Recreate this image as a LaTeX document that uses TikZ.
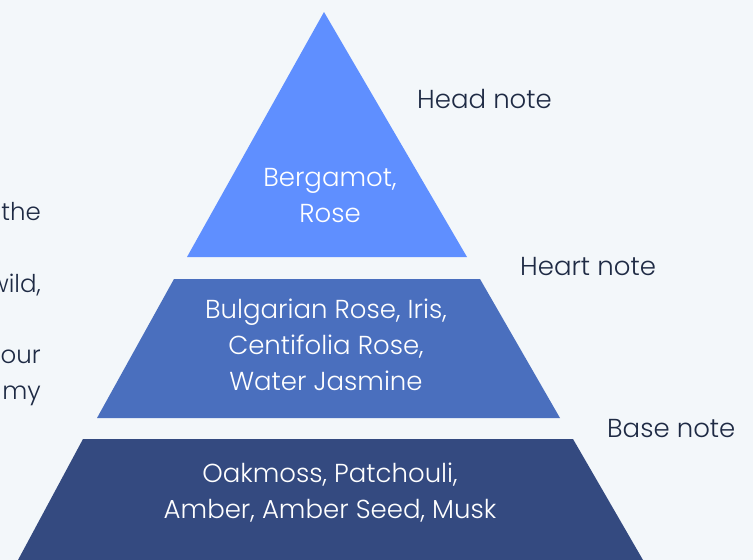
\documentclass[tikz,border=0pt]{standalone}
\usepackage{fontspec}
\setmainfont{Poppins Light}

\definecolor{pagebg}{RGB}{243,247,250}
\definecolor{headblue}{RGB}{95,143,255}
\definecolor{heartblue}{RGB}{74,111,190}
\definecolor{baseblue}{RGB}{52,74,128}
\definecolor{ink}{RGB}{30,42,68}

\begin{document}
\begin{tikzpicture}[x=1pt,y=-1pt]
      \tikzstyle{every node}+=[inner sep=0pt, font=\fontsize{26}{36}\selectfont]
      \tikzstyle{layer text}=[white, align=center]
      \tikzstyle{note label}=[ink, anchor=base west]
      \tikzstyle{side text}=[ink, anchor=base east, font=\fontsize{24.5}{36}\selectfont]
      \fill [pagebg] (0,0) rectangle (753,560);
      \clip (0,0) rectangle (753,560);
      % pyramid layers
      \fill [headblue] (324,12) -- (467,257) -- (187,257) -- cycle;
      \fill [heartblue] (174,279) -- (480,279) -- (560,418) -- (97,418) -- cycle;
      \fill [baseblue] (83,439) -- (573,439) -- (643,560) -- (18,560) -- cycle;
      \draw (330,196) node [layer text] (head) {Bergamot,\\Rose};
      \draw (326,345) node [layer text] (heart) {Bulgarian Rose, Iris,\\Centifolia Rose,\\Water Jasmine};
      \draw (330,493) node [layer text] (base) {Oakmoss, Patchouli,\\Amber, Amber Seed, Musk};
      % labels on the right
      \draw (417,108) node [note label] (headlabel) {Head note};
      \draw (520,275) node [note label] (heartlabel) {Heart note};
      \draw (607,437) node [note label] (baselabel) {Base note};
      % text cut off at the left edge
      \draw (41,220) node [side text] (line1) {the};
      \draw (41,292) node [side text] (line2) {wild,};
      \draw (41,363) node [side text] (line3) {our};
      \draw (41,399) node [side text] (line4) {my};
\end{tikzpicture}
\end{document}
